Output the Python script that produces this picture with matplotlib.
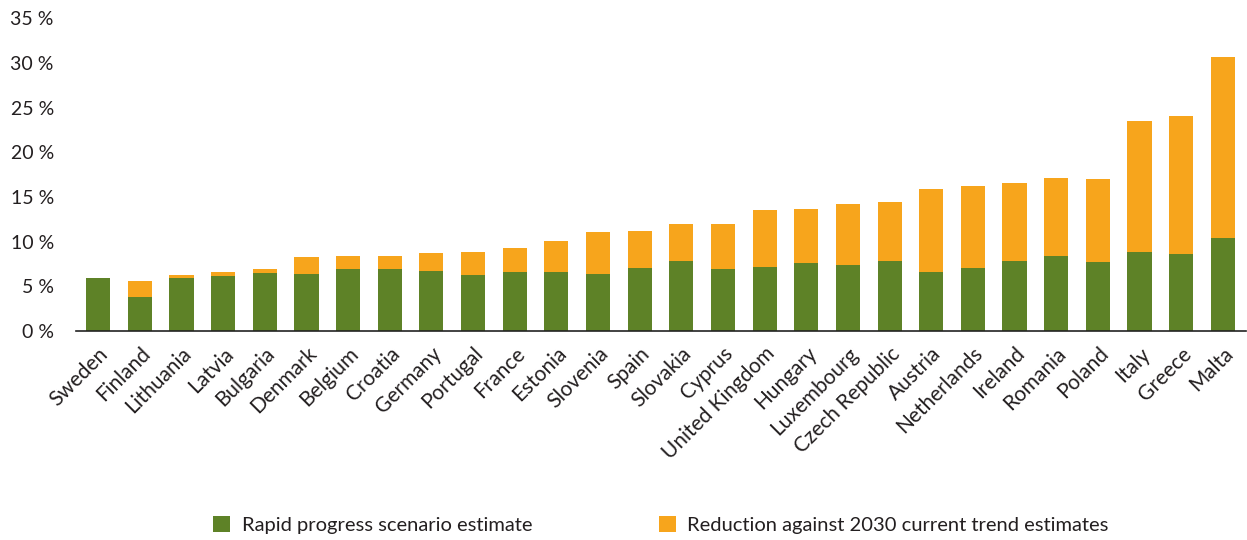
import matplotlib
matplotlib.use("Agg")
import matplotlib.pyplot as plt
import numpy as np

plt.rcParams['font.family'] = ['Lato', 'DejaVu Sans']

# countries, ordered as in the chart
countries = ['Sweden', 'Finland', 'Lithuania', 'Latvia', 'Bulgaria', 'Denmark',
             'Belgium', 'Croatia', 'Germany', 'Portugal', 'France', 'Estonia',
             'Slovenia', 'Spain', 'Slovakia', 'Cyprus', 'United Kingdom', 'Hungary',
             'Luxembourg', 'Czech Republic', 'Austria', 'Netherlands', 'Ireland',
             'Romania', 'Poland', 'Italy', 'Greece', 'Malta']

# rapid progress scenario estimate (%)
rapid = [5.9, 3.8, 5.9, 6.15, 6.5, 6.35, 6.9, 6.9, 6.7, 6.25, 6.6, 6.6,
         6.35, 7.0, 7.8, 6.9, 7.15, 7.6, 7.35, 7.8, 6.6, 7.0, 7.8,
         8.35, 7.7, 8.9, 8.6, 10.4]

# reduction against 2030 current trend estimates (%)
reduction = [0.0, 1.8, 0.35, 0.45, 0.45, 1.9, 1.45, 1.55, 2.0, 2.55, 2.65, 3.45,
             4.7, 4.25, 4.15, 5.05, 6.35, 6.1, 6.9, 6.6, 9.25, 9.25, 8.8,
             8.8, 9.35, 14.6, 15.5, 20.25]

green = '#5E8227'
orange = '#F7A51C'
textcol = '#231f20'

fig = plt.figure(figsize=(12.47, 5.4), dpi=100)
ax = fig.add_axes([0.061, 0.387, 0.938, 0.579])

x = np.arange(len(countries))
b1 = ax.bar(x, rapid, width=0.58, color=green, label='Rapid progress scenario estimate')
b2 = ax.bar(x, reduction, width=0.58, bottom=rapid, color=orange,
            label='Reduction against 2030 current trend estimates')

ax.set_ylim(0, 35)
ax.set_xlim(-0.53, len(countries) - 1 + 0.55)
ax.set_yticks(np.arange(0, 36, 5))
ax.set_yticklabels([f'{v} %' for v in range(0, 36, 5)])

for s in ['top', 'right', 'left']:
    ax.spines[s].set_visible(False)
ax.spines['bottom'].set_color('#222222')
ax.spines['bottom'].set_linewidth(1.2)

ax.tick_params(axis='y', length=0, pad=16, labelsize=14, labelcolor=textcol)
ax.tick_params(axis='x', length=0, pad=9, labelsize=15, labelcolor=textcol)
ax.set_xticks(x)
ax.set_xticklabels(countries, rotation=45, ha='right', va='top', rotation_mode='anchor')

fig.legend(handles=[b1, b2], loc='center', bbox_to_anchor=(0.53, 0.028),
           ncol=2, frameon=False, fontsize=14.5, handlelength=0.85, handleheight=0.85,
           handletextpad=0.55, columnspacing=6.3, labelcolor=textcol)

fig.savefig('out.png', dpi=100)
